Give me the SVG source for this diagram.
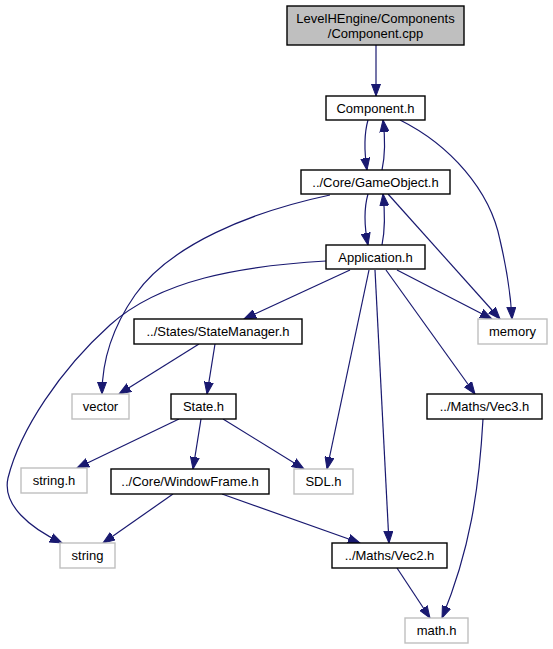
<svg xmlns="http://www.w3.org/2000/svg" width="553" height="649" viewBox="0 0 553 649">
<defs>
<marker id="arr" markerUnits="userSpaceOnUse" markerWidth="14" markerHeight="10" refX="12" refY="5" orient="auto" viewBox="0 0 14 10">
<path d="M0,0.5 L12,5 L0,9.5 z" fill="#191970" stroke="#191970" stroke-width="1"/>
</marker>
</defs>
<style>
.n rect{fill:#ffffff;stroke:#000000;stroke-width:1.4}
.g rect{fill:#ffffff;stroke:#bfbfbf;stroke-width:1.4}
.r rect{fill:#bfbfbf;stroke:#000000;stroke-width:1.4}
text{font-family:"Liberation Sans",Arial,sans-serif;font-size:13px;fill:#000000;text-anchor:middle}
.e path{fill:none;stroke:#191970;stroke-width:1.2;marker-end:url(#arr)}
</style>
<rect width="553" height="649" fill="#ffffff"/>
<g class="e" id="edges">
<path d="M376,45 L376,96"/>
<path d="M368,120 C364,134 364,150 367,170"/>
<path d="M382,170 C385,156 385,136 383,120"/>
<path d="M400,120 C450,145 490,190 500,240 C507,270 511,300 512,319"/>
<path d="M368,194 C364,208 364,225 368,245"/>
<path d="M382,245 C385,230 385,212 383,194"/>
<path d="M388,194 L500,319"/>
<path d="M330,195 C250,212 170,245 135,295 C112,328 102,360 102,394"/>
<path d="M326,261 C240,266 160,280 110,325 C60,370 20,430 8,478 C2,505 30,528 62,543"/>
<path d="M350,270 L244,319"/>
<path d="M397,270 L492,319"/>
<path d="M369,270 L327,469"/>
<path d="M375,270 L389,543"/>
<path d="M386,270 L475,394"/>
<path d="M199,344 L119,394"/>
<path d="M215,344 L207,394"/>
<path d="M179,419 L77,468"/>
<path d="M201,419 L193,469"/>
<path d="M223,419 L304,469"/>
<path d="M173,494 L103,543"/>
<path d="M222,494 L360,543"/>
<path d="M397,568 L430,618"/>
<path d="M483,419 C479,490 470,550 442,618"/>
</g>
<g id="root" class="r"><rect x="287" y="6" width="177" height="39"/><text x="375.5" y="23">LevelHEngine/Components</text><text x="375.5" y="38">/Component.cpp</text></g>
<g id="component_h" class="n"><rect x="326" y="96" width="99" height="24"/><text x="375.5" y="112.5">Component.h</text></g>
<g id="gameobject_h" class="n"><rect x="301" y="170" width="149" height="24"/><text x="375.5" y="186.5">../Core/GameObject.h</text></g>
<g id="application_h" class="n"><rect x="326" y="245" width="99" height="24"/><text x="375.5" y="261.5">Application.h</text></g>
<g id="memory" class="g"><rect x="478" y="319" width="69" height="25"/><text x="512.5" y="336">memory</text></g>
<g id="statemanager_h" class="n"><rect x="134" y="319" width="168" height="25"/><text x="218" y="336">../States/StateManager.h</text></g>
<g id="vector" class="g"><rect x="72" y="394" width="57" height="25"/><text x="100.5" y="411">vector</text></g>
<g id="state_h" class="n"><rect x="171" y="394" width="65" height="25"/><text x="203.5" y="411">State.h</text></g>
<g id="vec3_h" class="n"><rect x="427" y="394" width="115" height="25"/><text x="484.5" y="411">../Maths/Vec3.h</text></g>
<g id="string_h" class="g"><rect x="21" y="468" width="66" height="25"/><text x="54" y="485">string.h</text></g>
<g id="windowframe_h" class="n"><rect x="111" y="469" width="158" height="25"/><text x="190" y="486">../Core/WindowFrame.h</text></g>
<g id="sdl_h" class="g"><rect x="294" y="469" width="59" height="25"/><text x="323.5" y="486">SDL.h</text></g>
<g id="string" class="g"><rect x="60" y="543" width="55" height="25"/><text x="87.5" y="560">string</text></g>
<g id="vec2_h" class="n"><rect x="332" y="543" width="115" height="25"/><text x="389.5" y="560">../Maths/Vec2.h</text></g>
<g id="math_h" class="g"><rect x="405" y="618" width="63" height="25"/><text x="436.5" y="635">math.h</text></g>
</svg>
